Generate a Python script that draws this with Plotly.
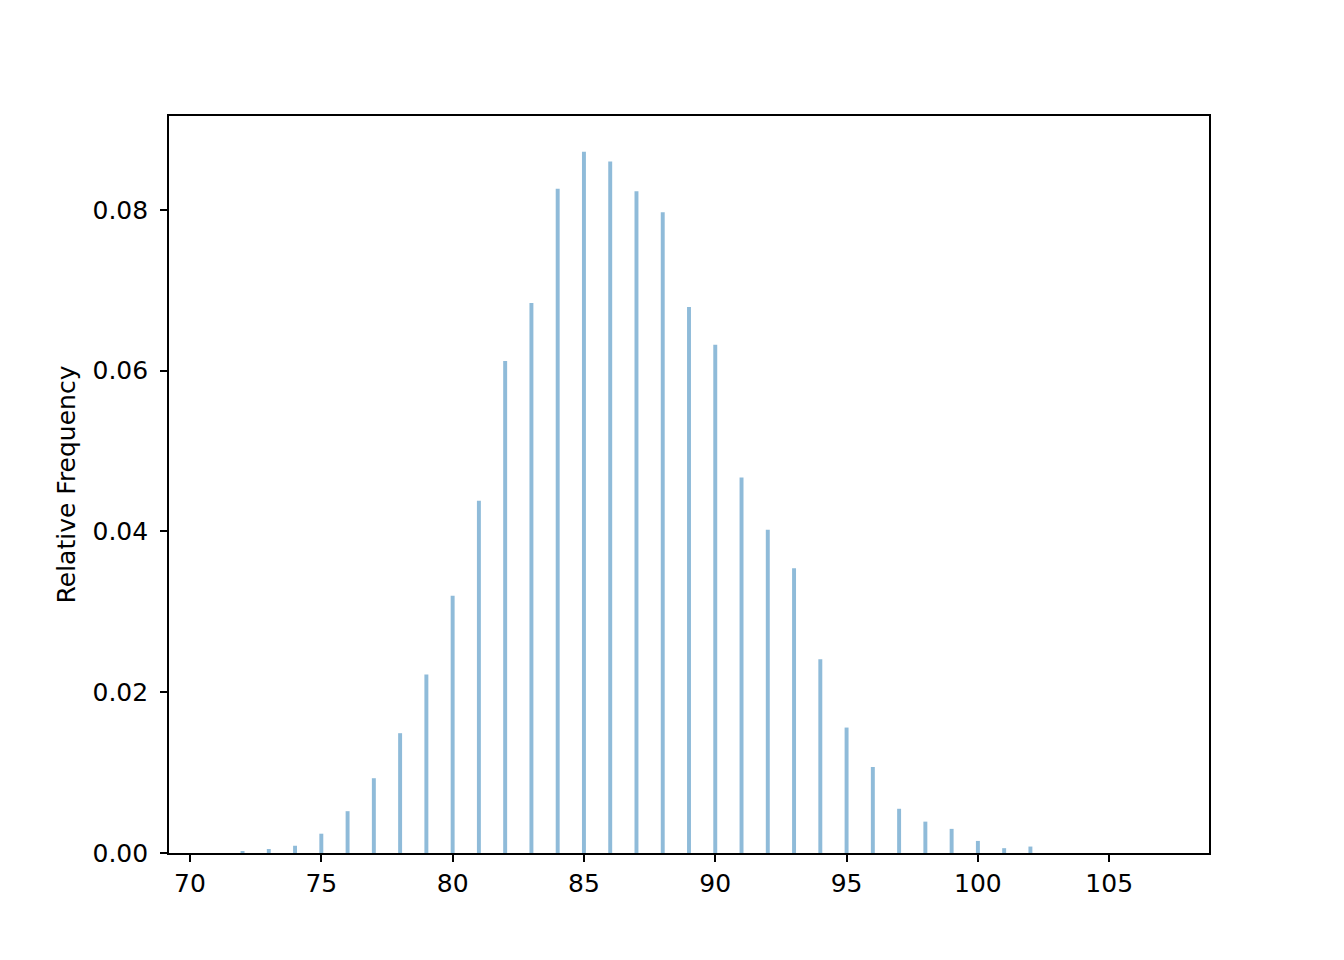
import plotly.graph_objects as go

values = [72, 73, 74, 75, 76, 77, 78, 79, 80, 81, 82, 83, 84, 85, 86, 87,
          88, 89, 90, 91, 92, 93, 94, 95, 96, 97, 98, 99, 100, 101, 102]
rel_freq = [0.00025, 0.0005, 0.0009, 0.0024, 0.0052, 0.0093, 0.0149, 0.0222,
            0.0320, 0.0438, 0.0612, 0.0684, 0.0826, 0.0872, 0.0860, 0.0823,
            0.0797, 0.0679, 0.0632, 0.0467, 0.0402, 0.0354, 0.0241, 0.0156,
            0.0107, 0.0055, 0.0039, 0.0030, 0.0015, 0.0006, 0.0008]
x_ticks = [70, 75, 80, 85, 90, 95, 100, 105]
y_ticks = [0.00, 0.02, 0.04, 0.06, 0.08]

fig = go.Figure(go.Bar(
    x=values, y=rel_freq, width=0.15,
    marker=dict(color="rgba(31,119,180,0.5)", line=dict(width=0)),
))

axis_common = dict(
    showline=True, linecolor="black", linewidth=1.6, mirror=True,
    ticks="outside", ticklen=7, tickwidth=1.6, tickcolor="black",
    showgrid=False, zeroline=False,
    tickfont=dict(family="DejaVu Sans", size=25, color="black"),
)

fig.update_layout(
    width=1336, height=952,
    margin=dict(l=161, r=135, t=108, b=107),
    paper_bgcolor="white", plot_bgcolor="white",
    showlegend=False,
    xaxis=dict(range=[69.2, 108.8], tickvals=x_ticks,
               ticktext=[str(v) for v in x_ticks], **axis_common),
    yaxis=dict(range=[0, 0.09166], tickvals=y_ticks,
               ticktext=[f"{v:.2f}" for v in y_ticks],
               ticklabelstandoff=7,
               title=dict(text="Relative Frequency", standoff=10,
                          font=dict(family="DejaVu Sans", size=25, color="black")),
               **axis_common),
)

fig.write_html("out.html")
